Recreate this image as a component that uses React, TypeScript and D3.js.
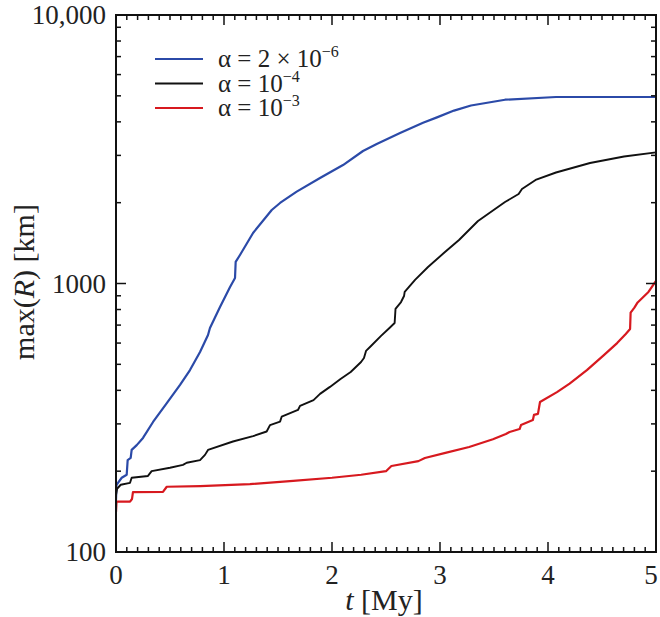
import React from "react";
import * as d3 from "d3";

// ---- data ----
const tBlue = [0, 0.005, 0.053, 0.099, 0.108, 0.136, 0.145, 0.192, 0.25, 0.343, 0.472, 0.593, 0.685, 0.778, 0.852, 0.87, 0.963, 1.056, 1.102, 1.108, 1.148, 1.269, 1.442, 1.519, 1.673, 1.889, 2.102, 2.287, 2.414, 2.63, 2.843, 2.972, 3.13, 3.287, 3.602, 4.074, 5.0];
const rBlue = [156, 178, 189, 194, 220, 224, 240, 250, 266, 305, 359, 419, 476, 556, 643, 683, 818, 970, 1048, 1203, 1277, 1542, 1878, 1995, 2198, 2471, 2762, 3115, 3308, 3635, 3971, 4156, 4405, 4603, 4836, 4950, 4950];

const tBlack = [0, 0.01, 0.044, 0.13, 0.145, 0.296, 0.33, 0.5, 0.62, 0.655, 0.778, 0.824, 0.852, 1.083, 1.269, 1.395, 1.426, 1.519, 1.534, 1.685, 1.704, 1.829, 1.889, 1.981, 2.079, 2.173, 2.269, 2.296, 2.315, 2.361, 2.454, 2.532, 2.58, 2.588, 2.639, 2.667, 2.673, 2.769, 2.889, 3.046, 3.176, 3.352, 3.602, 3.728, 3.759, 3.885, 4.074, 4.389, 4.704, 5.0];
const rBlack = [163, 172, 178, 181, 189, 192, 200, 206, 211, 215, 220, 230, 240, 258, 270, 281, 297, 306, 319, 338, 350, 368, 388, 412, 441, 468, 510, 528, 561, 585, 638, 683, 713, 804, 853, 898, 930, 1031, 1152, 1310, 1452, 1709, 2012, 2154, 2249, 2430, 2591, 2810, 2972, 3078];

const tRed = [0, 0.005, 0.13, 0.148, 0.157, 0.435, 0.47, 0.78, 1.24, 1.64, 2.0, 2.27, 2.5, 2.55, 2.8, 2.86, 3.05, 3.27, 3.49, 3.61, 3.644, 3.737, 3.75, 3.86, 3.87, 3.907, 3.926, 4.083, 4.2, 4.36, 4.52, 4.64, 4.72, 4.76, 4.765, 4.8, 4.83, 4.93, 5.0];
const rRed = [141, 154, 154, 157.5, 167, 167.5, 175, 176, 179, 184, 189, 194, 200, 209, 218, 224, 234, 246, 263, 275, 280, 287, 297, 310, 324, 327, 362, 394, 424, 476, 542, 600, 649, 677, 779, 813, 850, 930, 1022];

const xTickValues = [0, 1, 2, 3, 4, 5];
const yTickValues = [100, 1000, 10000];
const yTickLabels = ["100", "1000", "10,000"];
const legendBases = ["α = 2 × 10", "α = 10", "α = 10"];
const legendExps = ["−6", "−4", "−3"];
const seriesColors = ["#2b4aa8", "#111111", "#d7191f"];

const W = 660;
const H = 617;
const M = { left: 116, right: 656, top: 15, bottom: 552 };
const FONT = "'Liberation Serif', 'Times New Roman', serif";

export default function App() {
  const x = d3.scaleLinear().domain([0, 5]).range([M.left, M.right]);
  const y = d3.scaleLog().domain([100, 10000]).range([M.bottom, M.top]);

  const series = [
    { t: tBlue, r: rBlue },
    { t: tBlack, r: rBlack },
    { t: tRed, r: rRed },
  ];
  const line = d3
    .line<[number, number]>()
    .x((d) => x(d[0]))
    .y((d) => y(d[1]));

  const xMinor = d3.range(0, 51).map((i) => i / 10).filter((v) => !xTickValues.includes(v));
  const yMinor: number[] = [];
  [100, 1000].forEach((dec) => {
    for (let k = 2; k <= 9; k++) yMinor.push(dec * k);
  });

  const majorLen = 10;
  const minorLen = 5;

  return (
    <svg
      width={W}
      height={H}
      style={{ position: "absolute", left: 0, top: 0, background: "#fff" }}
      fontFamily={FONT}
    >
      <defs>
        <clipPath id="plotclip">
          <rect x={M.left} y={M.top - 2} width={M.right - M.left + 2} height={M.bottom - M.top + 2} />
        </clipPath>
      </defs>

      {/* data lines */}
      <g clipPath="url(#plotclip)">
        {series.map((s, i) => (
          <path
            key={i}
            d={line(s.t.map((t, j) => [t, s.r[j]] as [number, number])) || ""}
            fill="none"
            stroke={seriesColors[i]}
            strokeWidth={i === 1 ? 1.9 : 2.2}
            strokeLinejoin="round"
          />
        ))}
      </g>

      {/* frame */}
      <rect
        x={M.left}
        y={M.top}
        width={M.right - M.left}
        height={M.bottom - M.top}
        fill="none"
        stroke="#111"
        strokeWidth={2}
      />

      {/* ticks (inward, all four sides) */}
      <g stroke="#111" strokeWidth={1.5}>
        {xTickValues.map((v) => (
          <g key={"xM" + v}>
            <line x1={x(v)} x2={x(v)} y1={M.bottom} y2={M.bottom - majorLen} />
            <line x1={x(v)} x2={x(v)} y1={M.top} y2={M.top + majorLen} />
          </g>
        ))}
        {xMinor.map((v) => (
          <g key={"xm" + v}>
            <line x1={x(v)} x2={x(v)} y1={M.bottom} y2={M.bottom - minorLen} />
            <line x1={x(v)} x2={x(v)} y1={M.top} y2={M.top + minorLen} />
          </g>
        ))}
        {yTickValues.map((v) => (
          <g key={"yM" + v}>
            <line x1={M.left} x2={M.left + majorLen} y1={y(v)} y2={y(v)} />
            <line x1={M.right} x2={M.right - majorLen} y1={y(v)} y2={y(v)} />
          </g>
        ))}
        {yMinor.map((v) => (
          <g key={"ym" + v}>
            <line x1={M.left} x2={M.left + minorLen} y1={y(v)} y2={y(v)} />
            <line x1={M.right} x2={M.right - minorLen} y1={y(v)} y2={y(v)} />
          </g>
        ))}
      </g>

      {/* tick labels */}
      <g fontSize={27} fill="#222">
        {xTickValues.map((v) => (
          <text key={"xl" + v} x={Math.min(x(v), W - 9)} y={584} textAnchor="middle">
            {v}
          </text>
        ))}
        {yTickValues.map((v, i) => (
          <text key={"yl" + v} x={M.left - 10} y={y(v)} dy="0.35em" textAnchor="end">
            {yTickLabels[i]}
          </text>
        ))}
      </g>

      {/* axis titles */}
      <text x={384} y={610} textAnchor="middle" fontSize={30} fill="#222">
        <tspan fontStyle="italic">t</tspan>
        <tspan> [My]</tspan>
      </text>
      <text
        transform={`translate(34, 282) rotate(-90)`}
        textAnchor="middle"
        fontSize={30}
        fill="#222"
      >
        <tspan>max(</tspan>
        <tspan fontStyle="italic">R</tspan>
        <tspan>) [km]</tspan>
      </text>

      {/* legend */}
      <g>
        {legendBases.map((b, i) => {
          const ly = 59 + i * 24.5;
          return (
            <g key={"lg" + i}>
              <line x1={155} x2={203} y1={ly} y2={ly} stroke={seriesColors[i]} strokeWidth={2.2} />
              <text x={218} y={ly + 8} fontSize={25} fill="#222">
                <tspan>{b}</tspan>
                <tspan fontSize={16} dy={-10}>
                  {legendExps[i]}
                </tspan>
              </text>
            </g>
          );
        })}
      </g>
    </svg>
  );
}
